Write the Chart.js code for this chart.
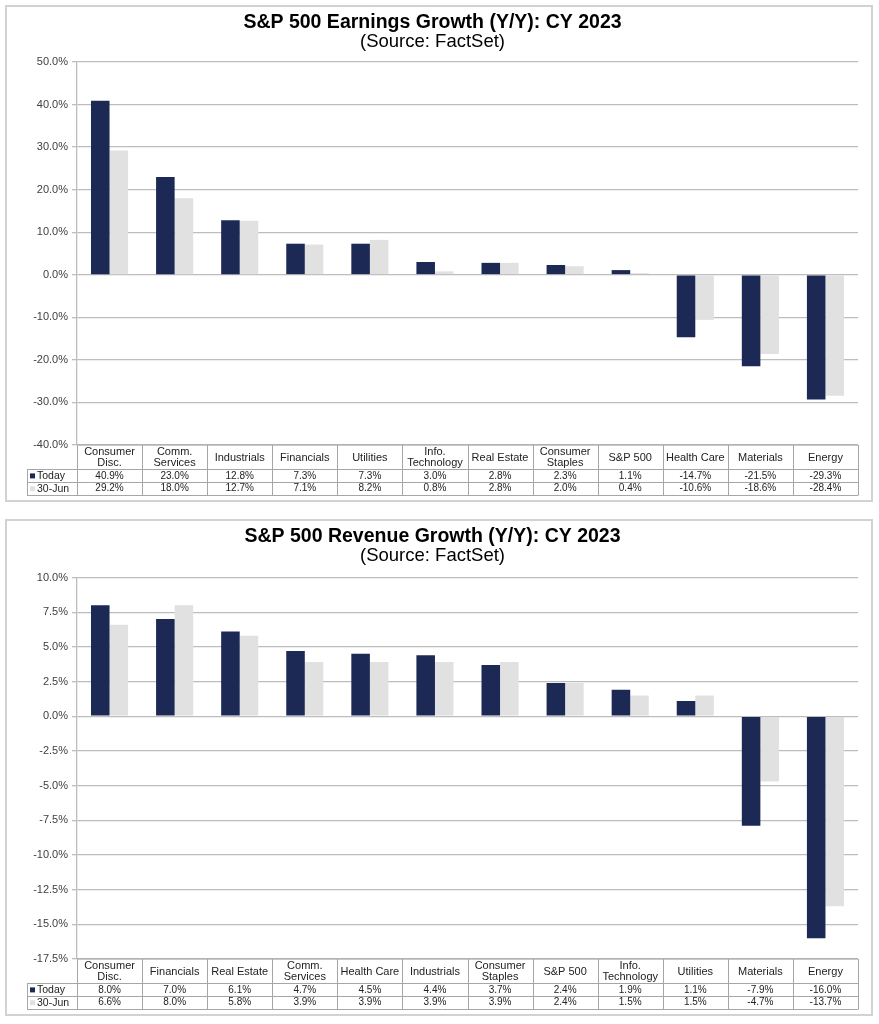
<!DOCTYPE html>
<html>
<head>
<meta charset="utf-8">
<script src="https://cdn.jsdelivr.net/npm/chart.js@4.4.1/dist/chart.umd.min.js"></script>
<style>
  body { margin: 0; background: #fff; }
  .panel { position: absolute; left: 5px; width: 864px; height: 493px; border: 2px solid #d2d2d2; background: #fff; }
  canvas { display: block; }
</style>
</head>
<body>
<div class="panel" style="top:5px"><canvas id="earnings" width="864" height="493"></canvas></div>
<div class="panel" style="top:519px"><canvas id="revenue" width="864" height="493"></canvas></div>
<script>
// Earnings growth, CY 2023
const earningsCategories = [['Consumer', 'Disc.'], ['Comm.', 'Services'], 'Industrials', 'Financials', 'Utilities',
  ['Info.', 'Technology'], 'Real Estate', ['Consumer', 'Staples'], 'S&P 500', 'Health Care', 'Materials', 'Energy'];
const earningsToday = [40.9, 23.0, 12.8, 7.3, 7.3, 3.0, 2.8, 2.3, 1.1, -14.7, -21.5, -29.3];
const earningsJun30 = [29.2, 18.0, 12.7, 7.1, 8.2, 0.8, 2.8, 2.0, 0.4, -10.6, -18.6, -28.4];
const earningsAxis = [-40, 50, 10];

// Revenue growth, CY 2023
const revenueCategories = [['Consumer', 'Disc.'], 'Financials', 'Real Estate', ['Comm.', 'Services'], 'Health Care',
  'Industrials', ['Consumer', 'Staples'], 'S&P 500', ['Info.', 'Technology'], 'Utilities', 'Materials', 'Energy'];
const revenueToday = [8.0, 7.0, 6.1, 4.7, 4.5, 4.4, 3.7, 2.4, 1.9, 1.1, -7.9, -16.0];
const revenueJun30 = [6.6, 8.0, 5.8, 3.9, 3.9, 3.9, 3.9, 2.4, 1.5, 1.5, -4.7, -13.7];
const revenueAxis = [-17.5, 10, 2.5];

const seriesNames = ['Today', '30-Jun'];
const NAVY = '#1c2955';
const LIGHT = '#e1e1e1';
const FONT = '"Liberation Sans", Arial, sans-serif';

// draws the data table (category names + values) under the plot, lined up with the x scale
const dataTable = {
  id: 'dataTable',
  afterDraw(chart) {
    const { ctx, chartArea } = chart;
    const x = chart.scales.x;
    const labels = chart.data.labels;
    const sets = chart.data.datasets;
    const colW = (chartArea.right - chartArea.left) / labels.length;
    const top = chartArea.bottom;
    const headH = 24, rowH = 12.8;
    const legendLeft = chartArea.left - 50;
    const bottom = top + headH + rowH * sets.length;

    ctx.save();
    ctx.strokeStyle = '#a6a6a6';
    ctx.lineWidth = 1;
    ctx.beginPath();
    // horizontal lines
    ctx.moveTo(chartArea.left, top); ctx.lineTo(chartArea.right, top);
    for (let r = 0; r <= sets.length; r++) {
      const y = Math.round(top + headH + r * rowH) + 0.5;
      ctx.moveTo(legendLeft, y); ctx.lineTo(chartArea.right, y);
    }
    // vertical lines
    const yb = Math.round(bottom) + 0.5;
    ctx.moveTo(legendLeft + 0.5, Math.round(top + headH) + 0.5); ctx.lineTo(legendLeft + 0.5, yb);
    for (let i = 0; i <= labels.length; i++) {
      const xx = Math.round(chartArea.left + i * colW) + 0.5;
      ctx.moveTo(xx, top); ctx.lineTo(xx, yb);
    }
    ctx.stroke();

    ctx.fillStyle = '#222';
    ctx.textAlign = 'center';
    ctx.textBaseline = 'middle';
    ctx.font = '11px ' + FONT;
    labels.forEach((lab, i) => {
      const cx = x.getPixelForValue(i);
      const lines = Array.isArray(lab) ? lab : [lab];
      const mid = top + headH / 2 + 0.5;
      lines.forEach((ln, k) => {
        ctx.fillText(ln, cx, mid + (k - (lines.length - 1) / 2) * 11);
      });
    });

    sets.forEach((ds, r) => {
      const cy = top + headH + r * rowH + rowH / 2 + 0.5;
      ctx.textAlign = 'center';
      ctx.font = '10px ' + FONT;
      ctx.fillStyle = '#222';
      ds.data.forEach((v, i) => {
        ctx.fillText(v.toFixed(1) + '%', x.getPixelForValue(i), cy);
      });
      // legend key
      ctx.fillStyle = ds.backgroundColor;
      ctx.fillRect(legendLeft + 3, cy - 2.5, 5, 5);
      ctx.fillStyle = '#222';
      ctx.textAlign = 'left';
      ctx.font = '10.5px ' + FONT;
      ctx.fillText(ds.label, legendLeft + 10, cy);
    });
    ctx.restore();
  }
};

function growthChart(id, titleText, categories, today, jun30, axis, topGap) {
  const [min, max, step] = axis;
  return new Chart(document.getElementById(id), {
    type: 'bar',
    data: {
      labels: categories,
      datasets: [
        { label: seriesNames[0], data: today, backgroundColor: NAVY },
        { label: seriesNames[1], data: jun30, backgroundColor: LIGHT }
      ]
    },
    options: {
      responsive: false,
      animation: false,
      layout: { padding: { left: 0, right: 13, top: 0, bottom: 55 } },
      datasets: { bar: { categoryPercentage: 0.57, barPercentage: 1.0 } },
      plugins: {
        legend: { display: false },
        tooltip: { enabled: false },
        title: {
          display: true,
          text: titleText,
          color: '#000',
          font: { family: FONT, size: 19.5, weight: 'bold', lineHeight: 1.0 },
          padding: { top: 6, bottom: 0 }
        },
        subtitle: {
          display: true,
          text: '(Source: FactSet)',
          color: '#000',
          font: { family: FONT, size: 18.5, lineHeight: 1.0 },
          padding: { top: 0.5, bottom: topGap }
        }
      },
      scales: {
        x: { display: false },
        y: {
          min: min,
          max: max,
          afterFit(scale) { scale.width = 70; },
          ticks: {
            stepSize: step,
            color: '#404040',
            padding: 4,
            font: { family: FONT, size: 11 },
            callback: v => v.toFixed(1) + '%'
          },
          grid: { color: '#bdbdbd', lineWidth: 1.3, tickLength: 5 },
          border: { display: true, color: '#bdbdbd', width: 1.3 }
        }
      }
    },
    plugins: [dataTable]
  });
}

growthChart('earnings', 'S&P 500 Earnings Growth (Y/Y): CY 2023', earningsCategories, earningsToday, earningsJun30, earningsAxis, 10.5);
growthChart('revenue', 'S&P 500 Revenue Growth (Y/Y): CY 2023', revenueCategories, revenueToday, revenueJun30, revenueAxis, 12);
</script>
</body>
</html>
